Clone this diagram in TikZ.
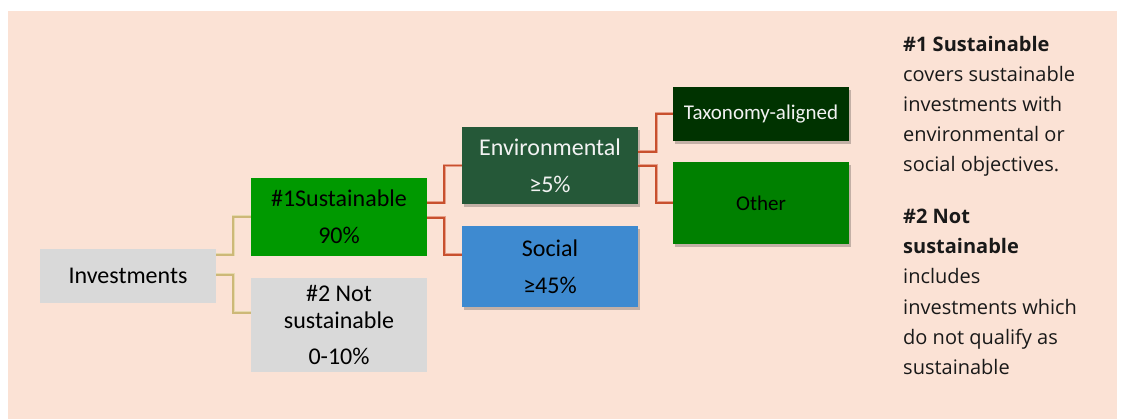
\documentclass[tikz,border=0pt]{standalone}
\usepackage{fontspec}
\setmainfont{Carlito}
\newfontfamily\notefont{Open Sans}
\usetikzlibrary{shadows}
\definecolor{bgpeach}{HTML}{FBE2D5}
\definecolor{boxgray}{HTML}{D9D9D9}
\definecolor{susgreen}{HTML}{009900}
\definecolor{envgreen}{HTML}{255838}
\definecolor{socblue}{HTML}{3E8AD0}
\definecolor{taxgreen}{HTML}{003300}
\definecolor{othgreen}{HTML}{008000}
\definecolor{tanline}{HTML}{CDB878}
\definecolor{tanlight}{HTML}{E6D9AE}
\definecolor{redline}{HTML}{C8502E}
\definecolor{redlight}{HTML}{E8A08A}
\definecolor{lighttext}{HTML}{F2F2F2}
\tikzset{
  box/.style={rectangle, inner sep=0pt, align=center, text=black,
    font=\fontsize{24}{37}\selectfont},
  smallbox/.style={box, font=\fontsize{21}{26}\selectfont},
  shad/.style={drop shadow={shadow xshift=2pt, shadow yshift=-3pt, fill=black, opacity=0.22}},
  tanconn/.style={draw=tanline, line width=1.5pt, preaction={draw=tanlight, line width=3pt}},
  redconn/.style={draw=redline, line width=1.5pt, preaction={draw=redlight, line width=3pt}},
  note/.style={anchor=base west, inner sep=0pt, font=\notefont\fontsize{20}{30}\selectfont, text=black!90},
  notebold/.style={note, font=\notefont\bfseries\fontsize{20}{30}\selectfont},
}
\begin{document}
\begin{tikzpicture}[x=1pt,y=-1pt]
\useasboundingbox (0,0) rectangle (1126,419);
\fill[bgpeach] (8,11) rectangle (1117,419);

% boxes
\node[box, fill=boxgray, minimum width=176pt, minimum height=54pt] (inv) at (128,276) {Investments};
\node[box, fill=susgreen, minimum width=176pt, minimum height=78pt] (s1) at (339,217) {\#1Sustainable\\90\%};
\node[box, fill=boxgray, minimum width=176pt, minimum height=94pt, font=\fontsize{24}{27}\selectfont] (s2) at (339,325) {\#2 Not\\sustainable\\[9pt]0-10\%};
\node[box, shad, fill=envgreen, text=lighttext, minimum width=176pt, minimum height=77pt] (env) at (550,165.5) {Environmental\\≥5\%};
\node[box, shad, fill=socblue, minimum width=176pt, minimum height=81pt] (soc) at (550,266.5) {Social\\≥45\%};
\node[smallbox, shad, fill=taxgreen, text=lighttext, minimum width=176pt, minimum height=54pt] (tax) at (761,114) {Taxonomy-aligned};
\node[smallbox, shad, fill=othgreen, minimum width=176pt, minimum height=82pt] (oth) at (761,203) {Other};

% connectors
\draw[tanconn] (inv.east |- 0,255) -| (233,217) -- (s1.west);
\draw[tanconn] (inv.east |- 0,275) -| (233,313) -- (s2.west |- 0,313);
\draw[redconn] (s1.east |- 0,203) -| (444,165.5) -- (env.west);
\draw[redconn] (s1.east |- 0,218) -| (444,255) -- (soc.west |- 0,255);
\draw[redconn] (env.east |- 0,152) -| (656,114) -- (tax.west);
\draw[redconn] (env.east |- 0,166) -| (656,203) -- (oth.west);

% notes
\node[notebold] (n1) at (903,52) {\#1 Sustainable};
\node[note] (n2) at (903,82) {covers sustainable};
\node[note] (n3) at (903,112) {investments with};
\node[note] (n4) at (903,142) {environmental or};
\node[note] (n5) at (903,172) {social objectives.};
\node[notebold] (n6) at (903,224) {\#2 Not};
\node[notebold] (n7) at (903,254) {sustainable};
\node[note] (n8) at (903,284) {includes};
\node[note] (n9) at (903,314) {investments which};
\node[note] (n10) at (903,344) {do not qualify as};
\node[note] (n11) at (903,374) {sustainable};
\end{tikzpicture}
\end{document}
